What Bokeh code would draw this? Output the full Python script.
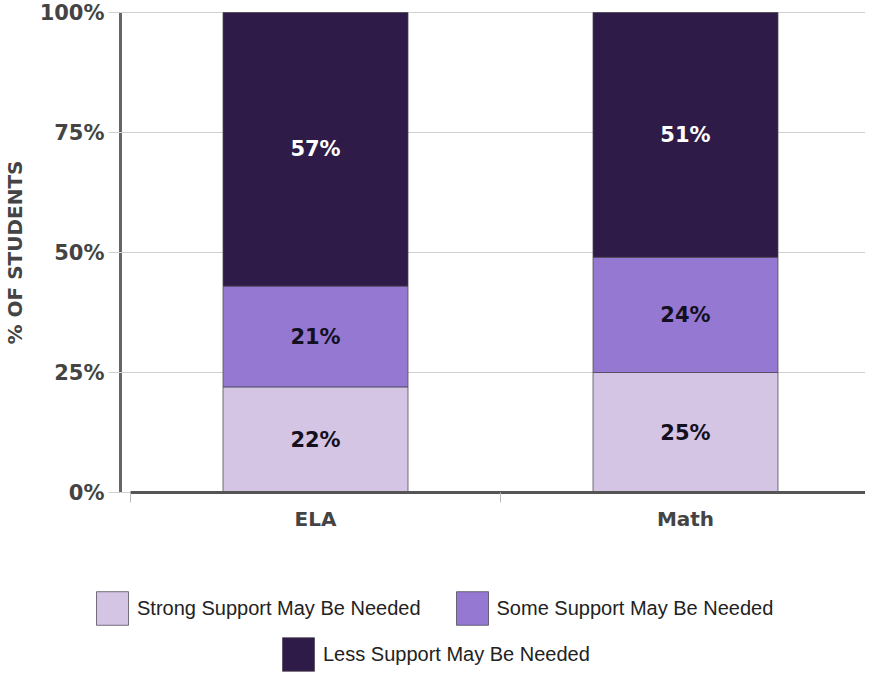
import numpy as np
from bokeh.plotting import figure
from bokeh.models import ColumnDataSource, FixedTicker, Range1d, Legend, LegendItem
from bokeh.core.properties import value
from bokeh.embed import file_html
from bokeh.resources import INLINE

# ---- data ----
subjects = ["ELA", "Math"]
levels = ["Strong Support May Be Needed", "Some Support May Be Needed", "Less Support May Be Needed"]
strong = [22, 25]
some = [21, 24]
less = [57, 51]
y_ticks = [0, 25, 50, 75, 100]

# ---- styles ----
colors = ["#d4c5e4", "#9478d2", "#2e1b47"]
label_colors = ["#141020", "#141020", "#ffffff"]

x = [i + 0.5 for i in range(len(subjects))]
series = [strong, some, less]
keys = ["strong", "some", "less"]
source = ColumnDataSource(dict(x=x, strong=strong, some=some, less=less))

W, H = 865, 675
# the frame fills the canvas; axes are pinned at fixed data locations
p = figure(frame_width=W, frame_height=H, min_border=0,
           x_range=Range1d(-0.3514, 1.9865), y_range=Range1d(-38.125, 102.5),
           output_backend="svg", toolbar_location=None)
p.outline_line_color = None
p.xgrid.visible = False
p.ygrid.visible = False

rs = p.vbar_stack(keys, x="x", width=0.5, fill_color=colors, line_color="#4a4552",
                  line_width=1, line_alpha=0.75, source=source)

# labels in segment centres
arr = np.array(series, dtype=float)
tops = np.cumsum(arr, axis=0)
bottoms = tops - arr
for i in range(len(series)):
    mids = (tops[i] + bottoms[i]) / 2
    p.text(x=x, y=list(mids), text=[f"{v}%" for v in series[i]],
           text_align="center", text_baseline="middle",
           text_font=value("DejaVu Sans"), text_font_style="bold",
           text_font_size="21px", text_color=label_colors[i])

# y axis (ticks extended inward act as grid lines, drawn beneath the bars)
ya = p.yaxis[0]
ya.fixed_location = -0.027
ya.bounds = (0, 100)
ya.level = "underlay"
ya.ticker = FixedTicker(ticks=y_ticks, minor_ticks=[])
ya.major_label_overrides = {t: f"{t}%" for t in y_ticks}
ya.axis_label = "% OF STUDENTS"
ya.axis_label_text_font = "DejaVu Sans"
ya.axis_label_text_font_style = "bold"
ya.axis_label_text_font_size = "20px"
ya.axis_label_text_color = "#444444"
ya.axis_label_standoff = 10
ya.major_label_text_font = "DejaVu Sans"
ya.major_label_text_font_style = "bold"
ya.major_label_text_font_size = "21px"
ya.major_label_text_color = "#444444"
ya.major_label_standoff = 4
ya.major_tick_out = 12
ya.major_tick_in = 760
ya.major_tick_line_color = "#d0d0d0"
ya.minor_tick_out = 0
ya.axis_line_color = "#666666"
ya.axis_line_width = 3

# x axis pinned at y = 0
xa = p.xaxis[0]
xa.fixed_location = 0
xa.bounds = (0, 1.9865)
xa.ticker = FixedTicker(ticks=x, minor_ticks=[0, 1, 2])
xa.major_label_overrides = {xv: s for xv, s in zip(x, subjects)}
xa.major_label_text_font = "DejaVu Sans"
xa.major_label_text_font_style = "bold"
xa.major_label_text_font_size = "20px"
xa.major_label_text_color = "#444444"
xa.major_label_standoff = 4
xa.major_tick_out = 0
xa.major_tick_in = 0
xa.minor_tick_out = 10
xa.minor_tick_in = 0
xa.minor_tick_line_color = "#bbbbbb"
xa.axis_line_color = "#555555"
xa.axis_line_width = 3

# legends (screen offsets from the frame's bottom-left)
common = dict(orientation="horizontal", glyph_width=40, glyph_height=42, label_standoff=5,
              spacing=31, padding=0, margin=0, border_line_color=None, background_fill_alpha=0,
              label_text_font="Liberation Sans", label_text_font_size="20px",
              label_text_color="#222222", label_height=42)
leg1 = Legend(items=[LegendItem(label=levels[0], renderers=[rs[0]]),
                     LegendItem(label=levels[1], renderers=[rs[1]])],
              location=(92, 46), **common)
leg2 = Legend(items=[LegendItem(label=levels[2], renderers=[rs[2]])],
              location=(278, 0), **common)
p.add_layout(leg1)
p.add_layout(leg2)

open("out.html", "w").write(file_html(p, INLINE))
